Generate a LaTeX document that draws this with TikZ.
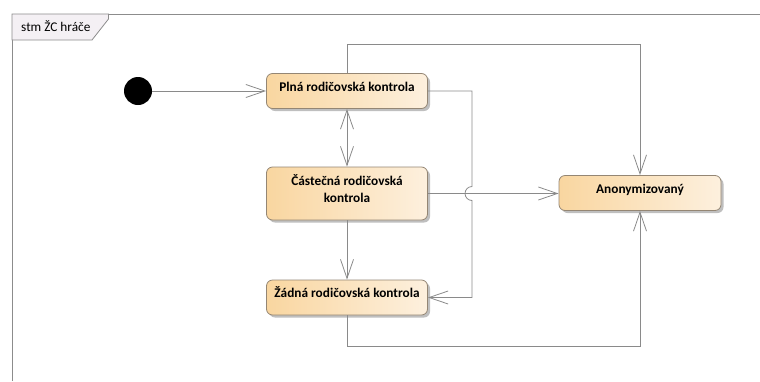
\documentclass[tikz,border=0pt]{standalone}
\usepackage{fontspec}
\setmainfont{Carlito}
\usetikzlibrary{arrows.meta,shadows}

\definecolor{framegray}{HTML}{8C8C8C}
\definecolor{linegray}{HTML}{8A8A8A}
\definecolor{boxedge}{HTML}{948674}
\definecolor{boxleft}{HTML}{F9D6A0}
\definecolor{boxright}{HTML}{FDF0DE}
\definecolor{tabfill}{HTML}{F4F0F4}

\begin{document}
\begin{tikzpicture}[x=1pt,y=-1pt,
  >={Straight Barb[length=19pt,width=13pt]},
  state/.style={draw=boxedge, line width=0.8pt, rounded corners=6pt,
    left color=boxleft, right color=boxright, minimum width=161pt,
    font=\fontsize{13.3}{17.4}\selectfont\bfseries, inner sep=0pt,
    drop shadow={shadow xshift=2.5pt, shadow yshift=-2.5pt, opacity=0.25, fill=black}},
  oneline/.style={text height=9pt, text depth=9pt, minimum height=35pt},
  flow/.style={draw=linegray, line width=0.8pt, ->},
]
\useasboundingbox (0,0) rectangle (760,381);

% diagram frame with its name tab
\draw[framegray, line width=0.8pt] (12,381) -- (12,14) -- (760,14);
\path[fill=tabfill, draw=framegray, line width=0.8pt]
  (12,14) -- (108.5,14) -- (108.5,19) -- (92,40) -- (12,40) -- cycle;
\node[anchor=base west, inner sep=0pt, font=\fontsize{13.3}{16}\selectfont] (title) at (21,31) {stm ŽC hráče};

% states
\node[circle, fill=black, minimum size=28pt, inner sep=0pt] (start) at (138,91) {};
\node[state, oneline] (plna) at (347,91) {Plná rodičovská kontrola};
\node[state, align=center, text depth=10pt, minimum height=53pt] (castecna) at (347,193.5) {Částečná rodičovská\\kontrola};
\node[state, oneline] (zadna) at (347,297.5) {Žádná rodičovská kontrola};
\node[state, oneline, minimum width=162pt] (anon) at (640,193) {Anonymizovaný};

% helper positions for the routed connectors
\coordinate (topy) at (0,44);
\coordinate (boty) at (0,346);
\coordinate (busx) at (472,0);
\coordinate (hop) at (castecna.east -| busx);

% transitions
\draw[flow] (start) -- (plna.west);
\draw[flow, <->] (plna) -- (castecna);
\draw[flow] (castecna) -- (zadna);
\draw[flow] (plna.north) -- (plna.north |- topy) -| (anon.north);
\draw[flow] (plna.east) -- (plna.east -| busx) -- ([yshift=7pt]hop)
  arc[start angle=90, end angle=270, radius=7pt]
  -- (busx |- zadna.east) -- (zadna.east);
\draw[flow] (castecna.east) -- (castecna.east -| anon.west);
\draw[flow] (zadna.south) -- (zadna.south |- boty) -| (anon.south);
\end{tikzpicture}
\end{document}
